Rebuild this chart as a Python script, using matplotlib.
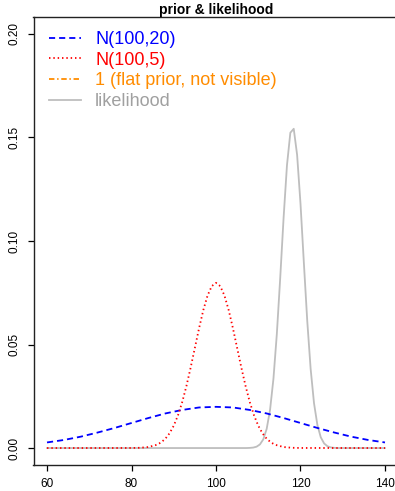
import matplotlib
matplotlib.use("Agg")
import matplotlib.pyplot as plt

plt.rcParams['font.family'] = ['Liberation Sans', 'DejaVu Sans']

# ---- data ----
# N(100,20) prior density
x_n20 = [60, 64, 68, 72, 76, 80, 84, 88, 92, 96, 100,
         104, 108, 112, 116, 120, 124, 128, 132, 136, 140]
y_n20 = [0.0027, 0.0039, 0.0055, 0.0075, 0.0097, 0.0121, 0.0145, 0.0167, 0.0184, 0.0196, 0.0199,
         0.0196, 0.0184, 0.0167, 0.0145, 0.0121, 0.0097, 0.0075, 0.0055, 0.0039, 0.0027]

# N(100,5) prior density
x_n5 = [60, 80, 82, 84, 86, 87, 88, 89, 90, 91, 92, 93, 94, 95, 96, 97, 98, 99, 100,
        101, 102, 103, 104, 105, 106, 107, 108, 109, 110, 111, 112, 113, 114, 116, 118, 120, 140]
y_n5 = [0.0, 0.00003, 0.00012, 0.00048, 0.00158, 0.00272, 0.00448, 0.00710, 0.01080, 0.01579,
        0.02218, 0.02995, 0.03884, 0.04839, 0.05794, 0.06664, 0.07366, 0.07821, 0.07979,
        0.07821, 0.07366, 0.06664, 0.05794, 0.04839, 0.03884, 0.02995, 0.02218, 0.01579,
        0.01080, 0.00710, 0.00448, 0.00272, 0.00158, 0.00048, 0.00012, 0.00003, 0.0]

# flat prior (value 1, outside the visible range)
x_flat = [60, 140]
y_flat = [1, 1]

# likelihood
x_lik = [60, 107.2, 108.0, 108.8, 109.6, 110.4, 111.2, 112.0, 112.8, 113.6, 114.4, 115.2,
         116.0, 116.8, 117.6, 118.4, 119.2, 120.0, 120.8, 121.6, 122.4, 123.2, 124.0,
         124.8, 125.6, 126.4, 127.2, 128.0, 128.8, 140]
y_lik = [0.0, 0.0, 0.00007, 0.00022, 0.00065, 0.00175, 0.00422, 0.00928, 0.01851, 0.03352,
         0.05509, 0.08213, 0.1112, 0.1366, 0.1523, 0.1542, 0.1416, 0.1181, 0.0894, 0.0614,
         0.0383, 0.02167, 0.01113, 0.00519, 0.00220, 0.00084, 0.00029, 0.00009, 0.0, 0.0]

labels = ["N(100,20)", "N(100,5)", "1 (flat prior, not visible)", "likelihood"]
line_colors = ["#0000FF", "#FF0000", "#FF8C00", "#BEBEBE"]
text_colors = ["#0000FF", "#FF0000", "#FF8C00", "#A0A0A0"]
x_ticks = [60, 80, 100, 120, 140]
y_ticks = [0.00, 0.05, 0.10, 0.15, 0.20]
y_ticklabels = ["0.00", "0.05", "0.10", "0.15", "0.20"]
title = "prior & likelihood"

# ---- figure ----
W, H = 395, 491
fig = plt.figure(figsize=(W / 100, H / 100), dpi=100)
ax = fig.add_axes([33.5 / W, 26.4 / H, 365.0 / W, (464.6 - 17.4) / H])

lw = 1.3
ax.plot(x_n20, y_n20, color=line_colors[0], lw=lw, linestyle=(0, (3.4, 2.2)), label=labels[0])
ax.plot(x_n5, y_n5, color=line_colors[1], lw=lw, linestyle=(0, (0.8, 1.6)), label=labels[1])
ax.plot(x_flat, y_flat, color=line_colors[2], lw=lw, linestyle=(0, (3, 1.5, 0.8, 1.5)), label=labels[2])
ax.plot(x_lik, y_lik, color=line_colors[3], lw=lw, label=labels[3], zorder=1)

ax.set_xlim(56.8, 143.2)
ax.set_ylim(-0.008, 0.208)
ax.set_xticks(x_ticks)
ax.set_xticklabels([str(t) for t in x_ticks])
ax.set_yticks(y_ticks)
ax.set_yticklabels(y_ticklabels, rotation=90, va='center')
ax.tick_params(axis='both', direction='out', length=4.5, width=0.9, labelsize=8.5, pad=5, color='black')
for s in ax.spines.values():
    s.set_linewidth(1.0)
    s.set_color('#222222')

ax.set_title(title, fontsize=10, fontweight='bold', pad=1)

leg = ax.legend(loc='upper left', bbox_to_anchor=(49 / W, 1 - 31 / H),
                bbox_transform=fig.transFigure, frameon=False, fontsize=13,
                borderpad=0, borderaxespad=0, handlelength=1.75, handletextpad=0.8,
                labelspacing=0.2)
for t, c in zip(leg.get_texts(), text_colors):
    t.set_color(c)

fig.savefig("out.png", dpi=100)
